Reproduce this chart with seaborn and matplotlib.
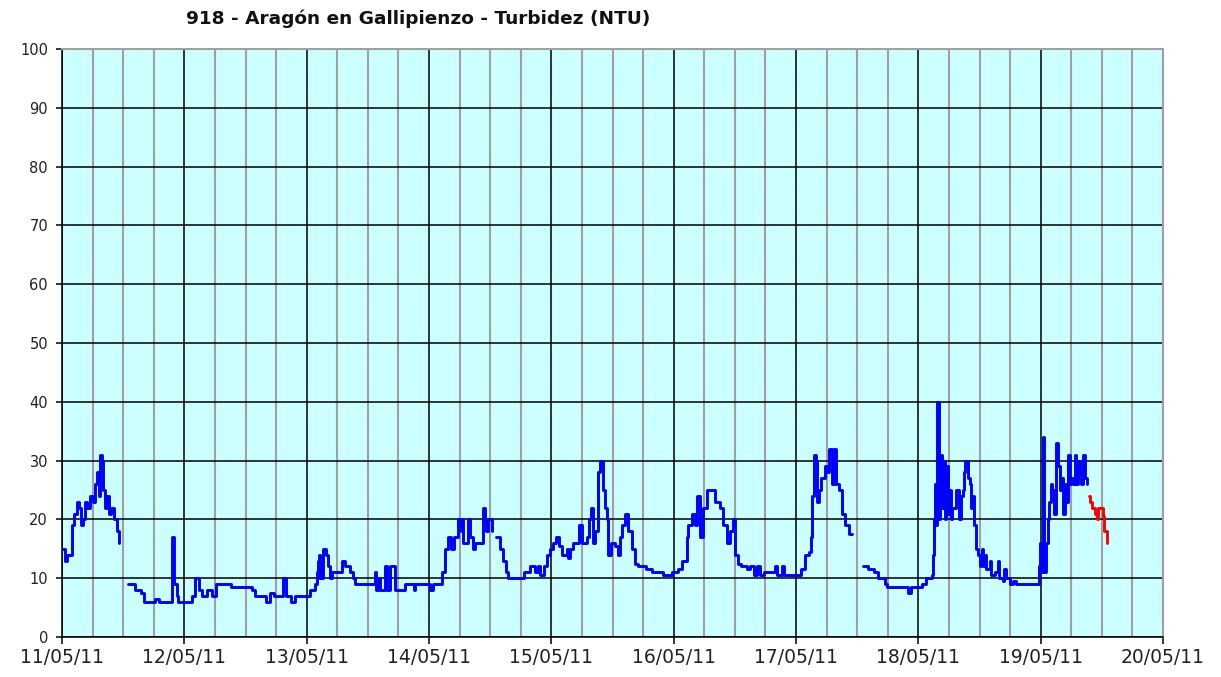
import numpy as np
import pandas as pd
import matplotlib
matplotlib.use("Agg")
import matplotlib.pyplot as plt
from matplotlib.ticker import MultipleLocator
import seaborn as sns

# ---- data (hours since 11/05/11 00:00, turbidity NTU) ----
seg_a_h = [0, 0.5, 1, 1.9, 2.0, 2.4, 2.9, 3.3, 3.7, 4.1, 4.5, 5.0, 5.5, 6.0, 6.5, 6.9, 7.2,
           7.45, 7.8, 8.0, 8.4, 8.8, 9.3, 9.7, 10.2, 10.7, 11.25]
seg_a_v = [15, 13, 14, 14, 19, 21, 23, 22, 19, 20, 23, 22, 24, 23, 26, 28, 24,
           31, 30, 25, 22, 24, 21, 22, 20, 18, 16]

seg_b_h = [13.0, 14.3, 15.5, 16.0, 18.2, 19.0, 21.3, 21.5, 22.0, 22.5, 22.8, 25.5, 26.1, 26.8,
           27.5, 28.4, 29.4, 30.3, 32.6, 33.2, 36.5, 37.2, 37.8, 39.0, 40.0, 40.8, 41.5, 43.2,
           43.4, 44.0, 45.0, 45.7, 48.2, 48.6, 49.6, 50.0, 50.2, 50.4, 50.6, 50.7, 50.9, 51.3,
           51.8, 52.1, 52.5, 53.0, 54.9, 55.6, 56.5, 57.0, 57.5, 61.0, 61.4, 61.7, 62.0, 62.3,
           63.4, 63.7, 64.3, 65.0, 65.3, 67.0, 67.3, 69.0, 69.3, 72.2, 72.8, 74.5, 75.1, 75.8,
           76.3, 77.0, 77.6, 78.2, 78.4, 78.6, 79.6, 80.0, 80.6, 81.0, 82.6, 82.9, 83.2, 83.6, 84.3]
seg_b_v = [9, 8, 7.5, 6, 6.5, 6, 6, 17, 9, 7, 6, 7, 10, 8,
           7, 8, 7, 9, 9, 8.5, 8.5, 8, 7, 7, 6, 7.5, 7, 7,
           10, 7, 6, 7, 7, 8, 9, 11, 13, 14, 10, 13, 10, 15,
           14, 12, 10, 11, 13, 12, 11, 10, 9, 9, 11, 8, 10, 8,
           12, 8, 12, 12, 8, 8, 9, 8, 9, 8, 9, 11, 15, 17,
           15, 17, 20, 18, 20, 16, 20, 17, 15, 16, 22, 20, 18, 20, 18]

seg_c_h = [85.2, 85.9, 86.5, 87.2, 87.5, 90.1, 90.7, 91.8, 92.8, 93.4, 93.8, 94.5, 95.1, 95.7,
           96.3, 96.9, 97.5, 98.0, 99.0, 99.3, 99.6, 100.2, 101.5, 102.0, 103.0, 103.4, 103.8,
           104.2, 104.6, 105.2, 105.5, 106.1, 106.5, 106.9, 107.2, 107.8, 108.5, 109.1, 109.5,
           109.8, 110.5, 111.1, 111.8, 112.5, 113.0, 114.5, 115.8, 118.0, 119.6, 120.9, 121.6,
           122.6, 122.9, 123.5, 124.2, 124.6, 125.1, 125.8, 126.6, 127.6, 128.1, 129.1, 129.7,
           130.4, 131.0, 131.7, 132.0, 132.6, 133.2, 134.4, 135.0, 135.7, 136.3, 137.0, 137.7,
           139.6, 139.9, 140.3, 141.2, 141.6, 144.3, 144.9, 145.8, 146.5, 146.9, 147.2, 147.6,
           148.0, 148.2, 148.6, 149.0, 149.6, 150.1, 150.5, 151.0, 151.5, 151.8, 152.4, 153.0,
           153.7, 154.3, 155.0]
seg_c_v = [17, 15, 13, 11, 10, 10, 11, 12, 11, 12, 10.5, 12, 14, 15,
           16, 17, 15.5, 14, 15, 13.5, 15, 16, 19, 16, 17, 20, 22,
           16, 18, 28, 30, 25, 22, 20, 14, 16, 15.5, 14, 17,
           19, 21, 18, 15, 12.5, 12, 11.5, 11, 10.5, 11, 11.5, 13,
           17, 19, 21, 19, 24, 17, 22, 25, 25, 23, 22, 19,
           16, 18, 20, 14, 12.5, 12, 11.5, 12, 10.5, 12, 10.5, 11,
           11, 12, 10.5, 12, 10.5, 10.5, 11.5, 14, 14.5, 17, 24, 31,
           30, 23, 25, 27, 29, 28, 32, 26, 32, 26, 25, 21,
           19, 17.5, 17.5]

seg_d_h = [157.2, 158.2, 159.4, 160.0, 161.4, 161.8, 165.4, 166.0, 166.6, 168.3, 168.8, 169.6,
           170.6, 170.9, 171.1, 171.3, 171.5, 171.7, 172.0, 172.3, 172.6, 172.9, 173.2, 173.5,
           173.8, 174.0, 174.4, 174.7, 175.4, 175.9, 176.3, 176.7, 176.9, 177.2, 177.7, 178.1,
           178.4, 178.6, 179.0, 179.3, 179.7, 180.0, 180.3, 180.5, 180.7, 181.0, 181.3, 182.0,
           182.3, 183.0, 183.6, 183.9, 184.6, 184.9, 185.2, 185.9, 186.5, 187.1, 191.2, 191.6,
           191.9, 192.2, 192.4, 192.7, 193.0, 193.4, 193.7, 194.0, 194.3, 194.7, 195.1, 195.4,
           195.7, 196.0, 196.4, 196.7, 197.0, 197.4, 197.7, 198.0, 198.4, 198.7, 199.0, 199.4,
           199.7, 200.0, 200.4, 200.7, 201.0]
seg_d_v = [12, 11.5, 11, 10, 9, 8.5, 8.5, 7.5, 8.5, 8.5, 9, 10,
           10.5, 14, 20, 26, 19, 40, 20, 31, 22, 30, 20, 29,
           21, 25, 20, 22, 25, 20, 24, 25, 28, 30, 27, 26,
           22, 24, 19, 15, 14, 12, 13, 15, 12, 14, 11.5, 13,
           10.5, 11, 13, 10, 9.5, 11.5, 10, 9, 9.5, 9, 9, 12,
           16, 11, 34, 11, 16, 20, 23, 26, 25, 21, 33, 29,
           25, 27, 21, 26, 23, 31, 26, 27, 26, 31, 26, 30,
           28, 26, 31, 27, 26]

red_h = [201.4, 201.7, 202.0, 202.7, 203.0, 203.3, 203.9, 204.2, 204.5, 205.0]
red_v = [24, 23, 22, 21, 20, 22, 22, 20.5, 18, 16]

day_labels = ["11/05/11", "12/05/11", "13/05/11", "14/05/11", "15/05/11",
              "16/05/11", "17/05/11", "18/05/11", "19/05/11", "20/05/11"]
title_text = "918 - Aragón en Gallipienzo - Turbidez (NTU)"

# ---- build tables ----
segs = [(seg_a_h, seg_a_v), (seg_b_h, seg_b_v), (seg_c_h, seg_c_v), (seg_d_h, seg_d_v)]
blue = pd.concat([pd.DataFrame({"h": h, "v": v, "seg": i}) for i, (h, v) in enumerate(segs)],
                 ignore_index=True)
red = pd.DataFrame({"h": red_h, "v": red_v, "seg": 0})

sns.set_style("white")
plt.rcParams["font.family"] = ["DejaVu Sans"]

fig = plt.figure(figsize=(12.21, 6.77), dpi=100)
ax = fig.add_axes([62 / 1221, 40 / 677, (1163 - 62) / 1221, (637 - 49) / 677])
ax.set_facecolor("#CCFFFF")

sns.lineplot(data=blue, x="h", y="v", units="seg", estimator=None, color="#0000FF",
             lw=2.1, drawstyle="steps-post", ax=ax, zorder=3)
sns.lineplot(data=red, x="h", y="v", units="seg", estimator=None, color="#FF0000",
             lw=2.1, drawstyle="steps-post", ax=ax, zorder=3)

ax.set_xlim(0, 24 * (len(day_labels) - 1))
ax.set_ylim(0, 100)
ax.set_xticks(np.arange(len(day_labels)) * 24)
ax.set_xticklabels(day_labels)
ax.xaxis.set_minor_locator(MultipleLocator(6))
ax.set_yticks(np.arange(0, 101, 10))
ax.set_xlabel("")
ax.set_ylabel("")

ax.set_axisbelow(True)
ax.grid(which="minor", axis="x", color="#A0A0A0", lw=1.5, zorder=0)
ax.grid(which="major", axis="x", color="black", lw=1.1, zorder=1)
ax.grid(which="major", axis="y", color="black", lw=1.1, zorder=1)

for s in ["left", "bottom"]:
    ax.spines[s].set_color("black")
    ax.spines[s].set_linewidth(1.1)
for s in ["top", "right"]:
    ax.spines[s].set_color("#A0A0A0")
    ax.spines[s].set_linewidth(1.5)

ax.tick_params(axis="x", which="major", direction="out", length=5, width=1.1,
               color="black", labelsize=13.5, pad=3, bottom=True)
ax.tick_params(axis="x", which="minor", length=0)
ax.tick_params(axis="y", which="major", direction="out", length=4, width=1.1,
               color="black", labelsize=10.5, pad=6, left=True)
for lab in ax.get_xticklabels() + ax.get_yticklabels():
    lab.set_color("#222222")

fig.text(418 / 1221, 1 - 19 / 677, title_text, ha="center", va="center",
         fontsize=13.3, fontweight="bold", color="#111111")

fig.savefig("out.png", dpi=100, facecolor="white")
